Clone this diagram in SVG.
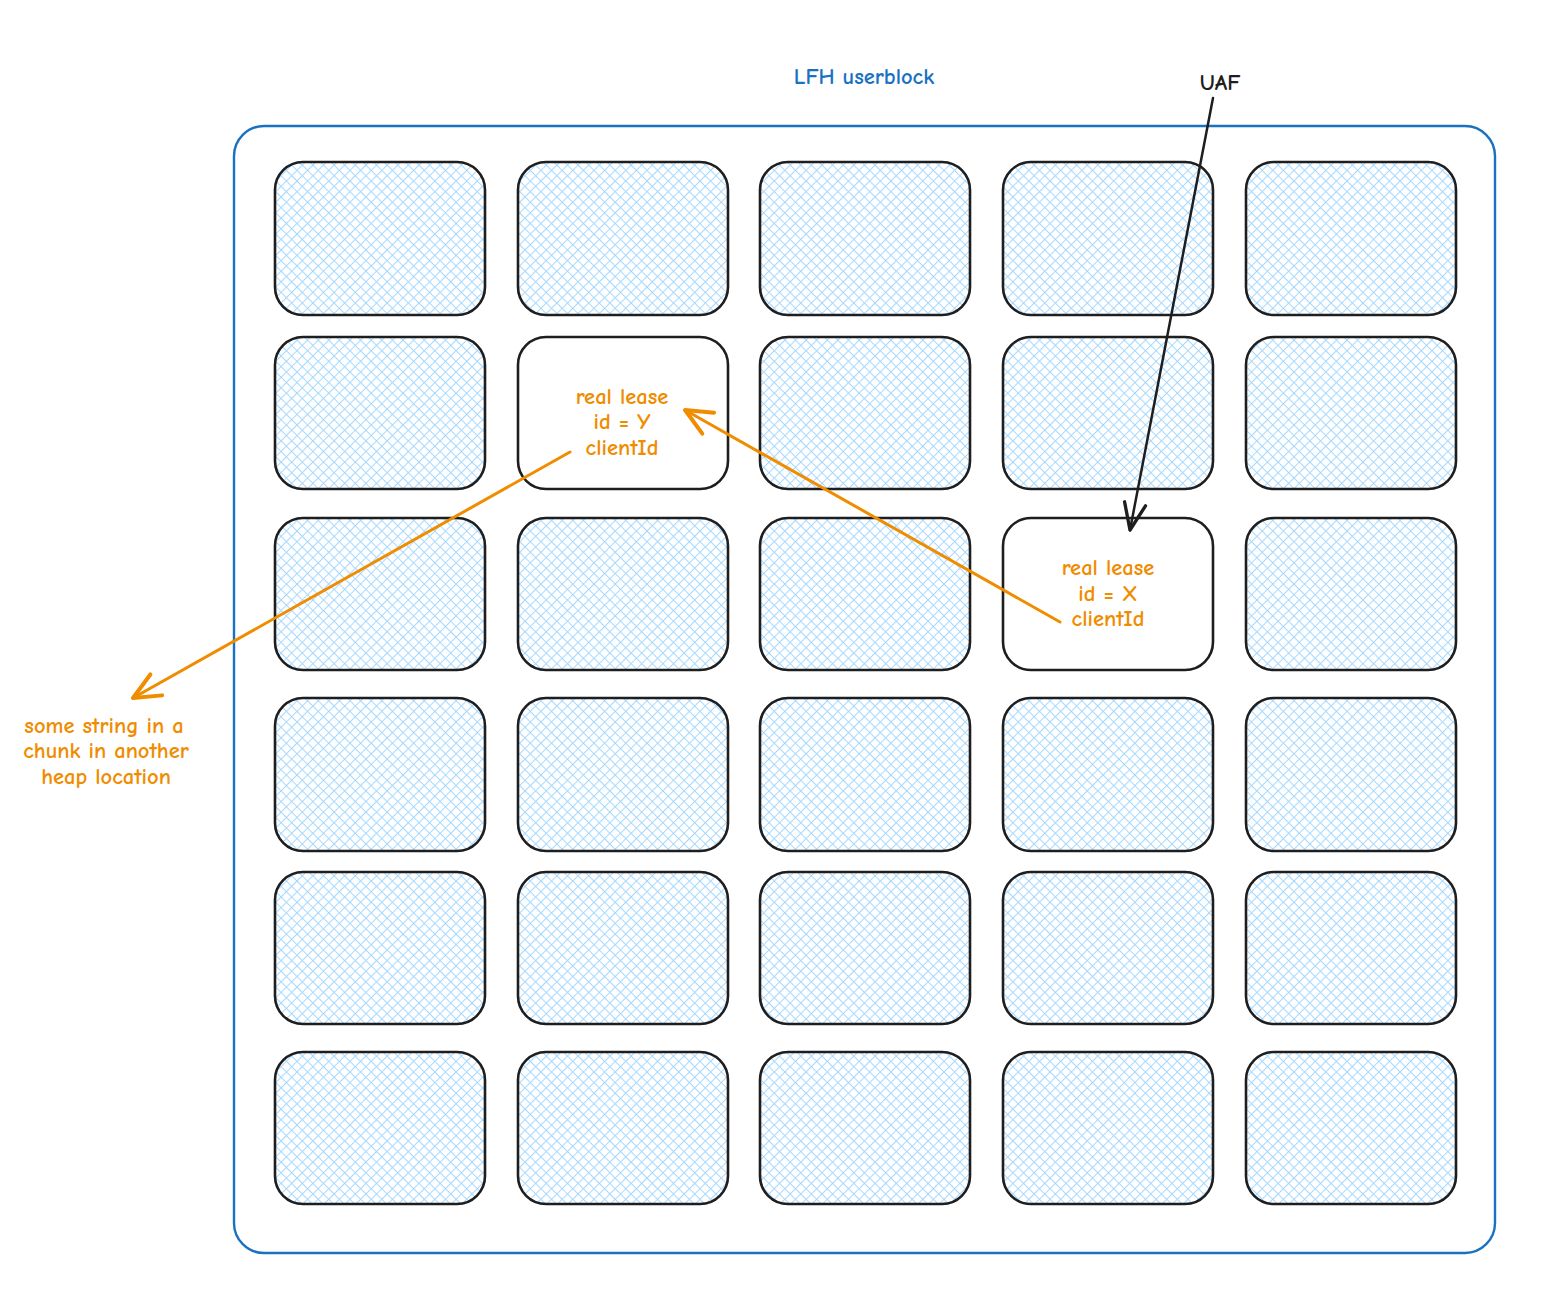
<svg xmlns="http://www.w3.org/2000/svg" width="1541" height="1291" viewBox="0 0 1541 1291">
<style>
.cell{fill:url(#hatch);stroke:#1e1e1e;stroke-width:2.6}
.empty{fill:#ffffff;stroke:#1e1e1e;stroke-width:2.6}
.t{font-family:"Comic Neue","Liberation Sans",sans-serif;font-size:22.5px;text-anchor:middle;font-weight:bold}
.o{fill:#f08c00}
.b{fill:#1971c2}
.k{fill:#1e1e1e}
</style>
<defs>
<pattern id="hatch" patternUnits="userSpaceOnUse" width="7.5" height="7.5" patternTransform="rotate(45)">
<rect width="7.5" height="7.5" fill="#ffffff"/>
<line x1="0" y1="0" x2="7.5" y2="0" stroke="#a5d8ff" stroke-width="2"/>
<line x1="0" y1="0" x2="0" y2="7.5" stroke="#a5d8ff" stroke-width="2"/>
</pattern>
<marker id="ao" markerUnits="userSpaceOnUse" markerWidth="40" markerHeight="40" refX="0" refY="0" viewBox="-25 -15 30 30" orient="auto" overflow="visible">
<path d="M-20,-9 L0,0 L-20,9" fill="none" stroke="#f08c00" stroke-width="3" stroke-linecap="round" stroke-linejoin="round"/>
</marker>
<marker id="ak" markerUnits="userSpaceOnUse" markerWidth="40" markerHeight="40" refX="0" refY="0" viewBox="-25 -15 30 30" orient="auto" overflow="visible">
<path d="M-20,-8 L0,0 L-20,8" fill="none" stroke="#1e1e1e" stroke-width="2.5" stroke-linecap="round" stroke-linejoin="round"/>
</marker>
</defs>
<rect width="1541" height="1291" fill="#ffffff"/>
<g id="userblock">
<rect x="234" y="126" width="1261" height="1127" rx="30" fill="none" stroke="#1971c2" stroke-width="2.4"/>
<text class="t b" x="864" y="84">LFH userblock</text>
</g>
<g id="uaf-label"><text class="t k" x="1220" y="90">UAF</text></g>
<g id="r0c0"><rect class="cell" x="275" y="162" width="210" height="153" rx="28"/></g>
<g id="r0c1"><rect class="cell" x="518" y="162" width="210" height="153" rx="28"/></g>
<g id="r0c2"><rect class="cell" x="760" y="162" width="210" height="153" rx="28"/></g>
<g id="r0c3"><rect class="cell" x="1003" y="162" width="210" height="153" rx="28"/></g>
<g id="r0c4"><rect class="cell" x="1246" y="162" width="210" height="153" rx="28"/></g>
<g id="r1c0"><rect class="cell" x="275" y="337" width="210" height="152" rx="28"/></g>
<g id="r1c1"><rect class="empty" x="518" y="337" width="210" height="152" rx="28"/>
<text class="t o" x="622" y="404">real lease</text><text class="t o" x="622" y="429">id = Y</text><text class="t o" x="622" y="455">clientId</text></g>
<g id="r1c2"><rect class="cell" x="760" y="337" width="210" height="152" rx="28"/></g>
<g id="r1c3"><rect class="cell" x="1003" y="337" width="210" height="152" rx="28"/></g>
<g id="r1c4"><rect class="cell" x="1246" y="337" width="210" height="152" rx="28"/></g>
<g id="r2c0"><rect class="cell" x="275" y="518" width="210" height="152" rx="28"/></g>
<g id="r2c1"><rect class="cell" x="518" y="518" width="210" height="152" rx="28"/></g>
<g id="r2c2"><rect class="cell" x="760" y="518" width="210" height="152" rx="28"/></g>
<g id="r2c3"><rect class="empty" x="1003" y="518" width="210" height="152" rx="28"/>
<text class="t o" x="1108" y="575">real lease</text><text class="t o" x="1108" y="601">id = X</text><text class="t o" x="1108" y="626">clientId</text></g>
<g id="r2c4"><rect class="cell" x="1246" y="518" width="210" height="152" rx="28"/></g>
<g id="r3c0"><rect class="cell" x="275" y="698" width="210" height="153" rx="28"/></g>
<g id="r3c1"><rect class="cell" x="518" y="698" width="210" height="153" rx="28"/></g>
<g id="r3c2"><rect class="cell" x="760" y="698" width="210" height="153" rx="28"/></g>
<g id="r3c3"><rect class="cell" x="1003" y="698" width="210" height="153" rx="28"/></g>
<g id="r3c4"><rect class="cell" x="1246" y="698" width="210" height="153" rx="28"/></g>
<g id="r4c0"><rect class="cell" x="275" y="872" width="210" height="152" rx="28"/></g>
<g id="r4c1"><rect class="cell" x="518" y="872" width="210" height="152" rx="28"/></g>
<g id="r4c2"><rect class="cell" x="760" y="872" width="210" height="152" rx="28"/></g>
<g id="r4c3"><rect class="cell" x="1003" y="872" width="210" height="152" rx="28"/></g>
<g id="r4c4"><rect class="cell" x="1246" y="872" width="210" height="152" rx="28"/></g>
<g id="r5c0"><rect class="cell" x="275" y="1052" width="210" height="152" rx="28"/></g>
<g id="r5c1"><rect class="cell" x="518" y="1052" width="210" height="152" rx="28"/></g>
<g id="r5c2"><rect class="cell" x="760" y="1052" width="210" height="152" rx="28"/></g>
<g id="r5c3"><rect class="cell" x="1003" y="1052" width="210" height="152" rx="28"/></g>
<g id="r5c4"><rect class="cell" x="1246" y="1052" width="210" height="152" rx="28"/></g>
<g id="other-chunk">
<text class="t o" x="104" y="733">some string in a</text><text class="t o" x="106" y="758">chunk in another</text><text class="t o" x="106" y="784">heap location</text>
</g>
<g id="connectors" fill="none" stroke-linecap="round">
<path d="M1213,98 L1130,530" stroke="#1e1e1e" stroke-width="2.5" marker-end="url(#ak)"/>
<path d="M1060,622 L685,410" stroke="#f08c00" stroke-width="3" marker-end="url(#ao)"/>
<path d="M570,452 L133,698" stroke="#f08c00" stroke-width="3" marker-end="url(#ao)"/>
</g>
</svg>
